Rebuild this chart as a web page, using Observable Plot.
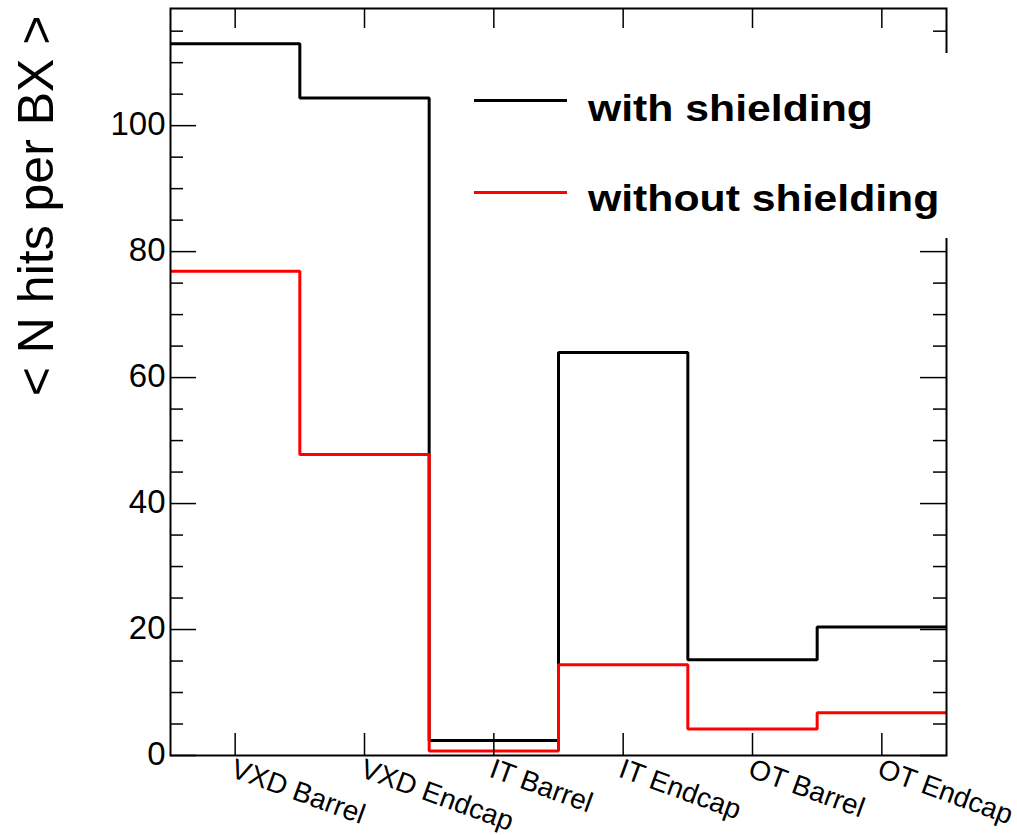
<!DOCTYPE html>
<html>
<head>
<meta charset="utf-8">
<script src="https://cdn.jsdelivr.net/npm/d3@7"></script>
<script src="https://cdn.jsdelivr.net/npm/@observablehq/plot@0.6"></script>
<style>
  html, body { margin: 0; padding: 0; background: #fff; }
  #wrap { position: relative; width: 1017px; height: 835px; font-family: "Liberation Sans", Arial, Helvetica, sans-serif; }
  #legend { position: absolute; left: 440px; top: 53px; width: 570px; height: 185px; background: #fff; }
  .sw { position: absolute; left: 34px; width: 93px; height: 3px; }
  .lt { position: absolute; left: 148px; font-weight: bold; font-size: 37px; line-height: 37px; white-space: nowrap;
        transform: scaleX(1.155); transform-origin: left center; color: #000; }
</style>
</head>
<body>
<div id="wrap"><div id="chart"></div><div id="legend"></div></div>
<script>
// ---- data ----
const categories = ["VXD Barrel", "VXD Endcap", "IT Barrel", "IT Endcap", "OT Barrel", "OT Endcap"];
const withShielding = [113.0, 104.4, 2.4, 64.0, 15.2, 20.4];
const withoutShielding = [76.9, 47.8, 0.7, 14.4, 4.2, 6.8];
const seriesNames = ["with shielding", "without shielding"];
const seriesColors = ["#000000", "#ff0000"];
const yTitle = "< N hits per BX >";
const yMajorTicks = [0, 20, 40, 60, 80, 100];
const yMinorTicks = [5, 10, 15, 25, 30, 35, 45, 50, 55, 65, 70, 75, 85, 90, 95, 105, 110, 115];
const yMax = 118.6;

// ---- layout ----
const W = 1017, H = 835;
const mL = 170, mR = 71, mT = 8, mB = 80;
const fw = W - mL - mR, fh = H - mT - mB;

// step points: bin i spans [i, i+1]
const stepPts = vals => vals.map((v, i) => ({x: i, y: v})).concat([{x: vals.length, y: vals[vals.length - 1]}]);
const centers = categories.map((c, i) => ({c, x: i + 0.5}));

const lineOpts = {x: "x", y: "y", curve: "step-after", strokeWidth: 3, strokeLinejoin: "miter", strokeLinecap: "butt"};

const plot = Plot.plot({
  width: W, height: H,
  marginLeft: mL, marginRight: mR, marginTop: mT, marginBottom: mB,
  x: {domain: [0, categories.length], axis: null},
  y: {domain: [0, yMax], axis: null},
  style: {fontFamily: "'Liberation Sans', Arial, Helvetica, sans-serif", background: "#fff", color: "#000"},
  marks: [
    Plot.line(stepPts(withShielding), {...lineOpts, stroke: seriesColors[0]}),
    Plot.line(stepPts(withoutShielding), {...lineOpts, stroke: seriesColors[1]}),
    // y ticks left / right
    Plot.tickY(yMajorTicks, {y: d => d, insetRight: fw - 26, stroke: "#000", strokeWidth: 1.5}),
    Plot.tickY(yMinorTicks, {y: d => d, insetRight: fw - 13, stroke: "#000", strokeWidth: 1.5}),
    Plot.tickY(yMajorTicks, {y: d => d, insetLeft: fw - 26, stroke: "#000", strokeWidth: 1.5}),
    Plot.tickY(yMinorTicks, {y: d => d, insetLeft: fw - 13, stroke: "#000", strokeWidth: 1.5}),
    // x ticks bottom / top
    Plot.tickX(centers, {x: "x", insetTop: fh - 22, stroke: "#000", strokeWidth: 1.5}),
    Plot.tickX(centers, {x: "x", insetBottom: fh - 20, stroke: "#000", strokeWidth: 1.5}),
    Plot.frame({stroke: "#000", strokeWidth: 2}),
    // y tick labels
    Plot.text(yMajorTicks, {y: d => d, text: d => String(d), frameAnchor: "left", textAnchor: "end",
      lineAnchor: "middle", dx: -5, dy: -1.5, fontSize: 33, fill: "#000", ariaLabel: "ytick-labels"}),
    // x category labels
    Plot.text(centers, {x: "x", text: "c", frameAnchor: "bottom", rotate: 20, textAnchor: "start",
      lineAnchor: "top", dx: 1, dy: 2, fontSize: 28, fill: "#000", ariaLabel: "xtick-labels"}),
    // y title
    Plot.text([yTitle], {text: d => d, frameAnchor: "top-left", rotate: -90, textAnchor: "end",
      lineAnchor: "middle", dx: -134, dy: 7, fontSize: 50, fill: "#000", ariaLabel: "y-title"})
  ]
});

function stretch(svg, label, s) {
  svg.querySelectorAll(`g[aria-label="${label}"] text`).forEach(t => {
    const tr = t.getAttribute("transform") || "";
    const x = t.getAttribute("x"), y = t.getAttribute("y");
    let extra = "";
    if (x != null || y != null) {
      extra = ` translate(${x || 0},${y || 0})`;
      t.removeAttribute("x"); t.removeAttribute("y");
    }
    t.setAttribute("transform", (tr + extra + ` scale(${s},1)`).trim());
  });
}
stretch(plot, "ytick-labels", 1.22);

document.getElementById("chart").appendChild(plot);

// legend (overlay box, covering part of the frame as in the original)
const legend = d3.select("#legend");
const rowTops = [46.2, 137.5];
const textTops = [37.4, 127.4];
seriesNames.forEach((name, i) => {
  legend.append("div").attr("class", "sw").style("top", rowTops[i] + "px").style("background", seriesColors[i]);
  legend.append("div").attr("class", "lt").style("top", textTops[i] + "px").text(name);
});
</script>
</body>
</html>
